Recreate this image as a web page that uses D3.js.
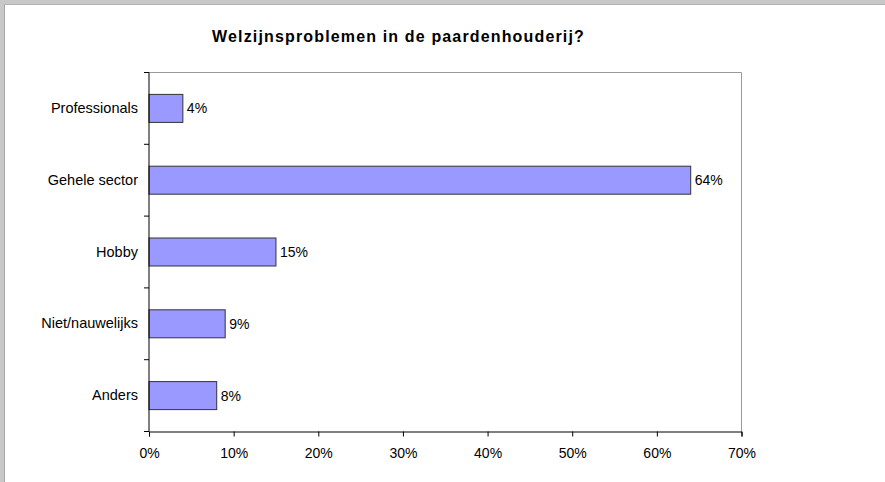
<!DOCTYPE html>
<html><head><meta charset="utf-8">
<script src="https://cdn.jsdelivr.net/npm/d3@7"></script>
<style>body{margin:0;background:#fff}svg{display:block}</style>
</head><body>
<script>
const categories = ["Professionals","Gehele sector","Hobby","Niet/nauwelijks","Anders"];
const values = [4, 64, 15, 9, 8];
const xTicks = [0,10,20,30,40,50,60,70];
const title = "Welzijnsproblemen in de paardenhouderij?";

const W = 885, H = 482;
const svg = d3.select("body").append("svg").attr("width", W).attr("height", H);
const font = "Arial, 'Liberation Sans', sans-serif";

// outer frame
svg.append("rect").attr("x",0).attr("y",0).attr("width",W).attr("height",4).attr("fill","#c8c8c8");
svg.append("rect").attr("x",0).attr("y",0).attr("width",4).attr("height",H).attr("fill","#c8c8c8");
svg.append("line").attr("x1",4.5).attr("x2",4.5).attr("y1",4).attr("y2",H).attr("stroke","#a8a8a8");
svg.append("line").attr("x1",4).attr("x2",W).attr("y1",4.5).attr("y2",4.5).attr("stroke","#b0b0b0");

const L = 149, R = 741.5, T = 72.5, B = 431.5;
const x = d3.scaleLinear().domain([0,70]).range([L,R]);
const y = d3.scaleBand().domain(categories).range([T,B]).paddingInner(0.61).paddingOuter(0.305);

// plot border (top/right gray)
svg.append("path").attr("d",`M${L},${T}H${R}V${B}`).attr("fill","none").attr("stroke","#999").attr("stroke-width",1);

// title
svg.append("text").attr("x",398.5).attr("y",42).attr("text-anchor","middle")
  .attr("font-family",font).attr("font-weight","bold").attr("font-size",16).attr("letter-spacing",1.15)
  .text(title);

// bars
svg.selectAll("rect.bar").data(categories).enter().append("rect").attr("class","bar")
  .attr("x",x(0)).attr("y",d=>y(d)).attr("width",(d,i)=>x(values[i])-x(0)).attr("height",y.bandwidth())
  .attr("fill","#9999ff").attr("stroke","#333").attr("stroke-width",1);

// value labels
svg.selectAll("text.val").data(categories).enter().append("text").attr("class","val")
  .attr("x",(d,i)=>x(values[i])+4).attr("y",d=>y(d)+y.bandwidth()/2).attr("dy","0.35em")
  .attr("font-family",font).attr("font-size",14).attr("fill","#000")
  .text((d,i)=>values[i]+"%");

// x axis
const xa = svg.append("g").attr("transform",`translate(0,${B})`)
  .call(d3.axisBottom(x).tickValues(xTicks).tickFormat(d=>d+"%").tickSize(5).tickPadding(12));
xa.select(".domain").attr("stroke","#000");
xa.selectAll("line").attr("stroke","#000");
xa.selectAll("text").attr("font-family",font).attr("font-size",14).attr("fill","#000");

// y axis
const step = (B-T)/categories.length;
const ya = svg.append("g").attr("transform",`translate(${L},0)`)
  .call(d3.axisLeft(y).tickSize(0).tickPadding(11));
ya.select(".domain").attr("stroke","#000").attr("d",`M0,${T}V${B}`);
ya.selectAll("text").attr("font-family",font).attr("font-size",14.5).attr("fill","#000");
const bounds = d3.range(categories.length+1).map(i=>T+i*step);
ya.selectAll("line.b").data(bounds).enter().append("line").attr("class","b")
  .attr("x1",-5).attr("x2",0).attr("y1",d=>d).attr("y2",d=>d).attr("stroke","#000");
</script>
</body></html>
